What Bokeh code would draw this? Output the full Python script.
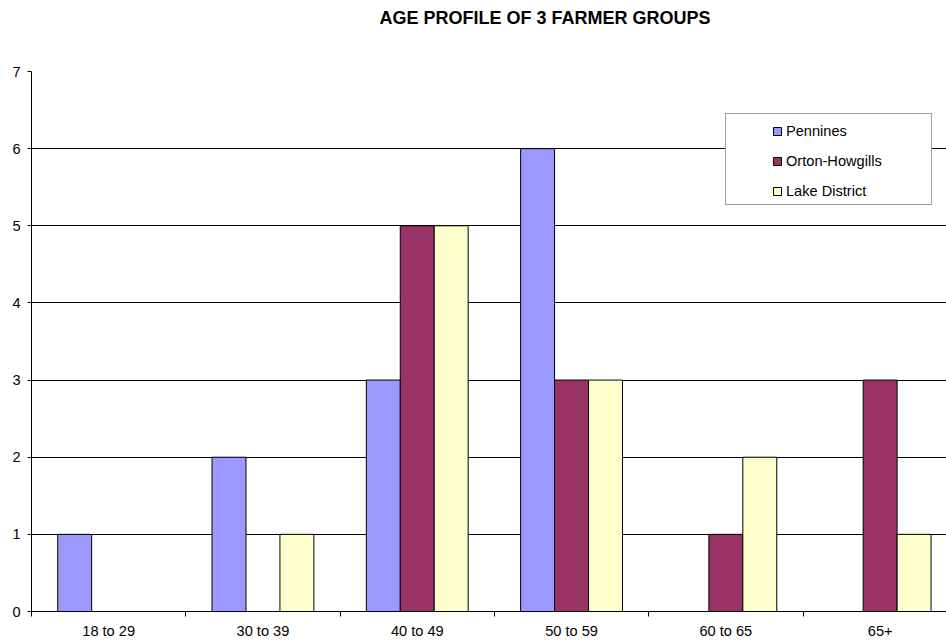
from bokeh.plotting import figure
from bokeh.models import (Range1d, FixedTicker, Legend, LegendItem, ColumnDataSource, Title)
from bokeh.core.properties import value
from bokeh.embed import file_html
from bokeh.resources import INLINE

categories = ["18 to 29", "30 to 39", "40 to 49", "50 to 59", "60 to 65", "65+"]
pennines = [1, 2, 3, 6, 0, 0]
orton_howgills = [0, 0, 5, 3, 1, 3]
lake_district = [0, 1, 5, 3, 2, 1]
series_names = ["Pennines", "Orton-Howgills", "Lake District"]
series_colors = ["#9999FF", "#993366", "#FFFFCC"]
y_ticks = [0, 1, 2, 3, 4, 5, 6, 7]
title_text = "AGE PROFILE OF 3 FARMER GROUPS"

FONT = "Liberation Sans"
W, H = 946, 641
n = len(categories)
centers = [i + 0.5 for i in range(n)]
bar_w = 0.22

p = figure(width=W, height=H, output_backend="svg", toolbar_location=None,
           x_range=Range1d(0, 5.93), y_range=Range1d(0, 7),
           min_border_left=31, min_border_right=0, min_border_top=71, min_border_bottom=0)
p.outline_line_color = None
p.background_fill_color = "white"
p.border_fill_color = "white"

# spacer between title and frame
p.add_layout(Title(text=" ", text_font_size="2px", standoff=35), "above")
p.title.text = title_text
p.title.align = "left"
p.title.offset = 348
p.title.vertical_align = "bottom"
p.title.standoff = 10
p.title.text_font = FONT
p.title.text_font_size = "18px"
p.title.text_font_style = "bold"
p.title.text_color = "black"

renderers = []
for k, (vals, name, color) in enumerate(zip([pennines, orton_howgills, lake_district], series_names, series_colors)):
    src = ColumnDataSource(dict(x=[c + (k - 1) * bar_w for c in centers], top=vals))
    r = p.vbar(x="x", top="top", width=bar_w, bottom=0, source=src,
               fill_color=color, line_color="black", line_width=1)
    renderers.append(r)

# axes
p.xaxis.ticker = FixedTicker(ticks=centers, minor_ticks=list(range(0, n)))
p.xaxis.major_label_overrides = {c: lab for c, lab in zip(centers, categories)}
p.xaxis.major_tick_line_color = None
p.xaxis.major_tick_out = 0
p.xaxis.major_tick_in = 0
p.xaxis.minor_tick_out = 5
p.xaxis.minor_tick_in = 0
p.xaxis.minor_tick_line_color = "black"
p.xaxis.axis_line_color = "black"
p.xaxis.major_label_text_font = FONT
p.xaxis.major_label_text_font_size = "14.6px"
p.xaxis.major_label_text_color = "black"
p.xaxis.major_label_standoff = 6

p.yaxis.ticker = FixedTicker(ticks=y_ticks)
p.yaxis.major_tick_out = 4
p.yaxis.major_tick_in = 0
p.yaxis.minor_tick_line_color = None
p.yaxis.axis_line_color = "black"
p.yaxis.major_tick_line_color = "black"
p.yaxis.major_label_text_font = FONT
p.yaxis.major_label_text_font_size = "14.6px"
p.yaxis.major_label_text_color = "black"
p.yaxis.major_label_standoff = 7

p.xgrid.grid_line_color = None
p.ygrid.grid_line_color = "black"
p.ygrid.grid_line_width = 1

# legend box (frame)
box_src = ColumnDataSource(dict(x=[], y=[]))
box_r = p.scatter(x="x", y="y", source=box_src, fill_alpha=0, line_alpha=0)
box_legend = Legend(items=[LegendItem(label=value(" "), renderers=[box_r])],
                    location=(694, 406), padding=0, spacing=0, margin=0,
                    glyph_width=1, glyph_height=1, label_standoff=0,
                    label_width=204, label_height=90,
                    border_line_color="#404040", border_line_width=1,
                    background_fill_color="white", background_fill_alpha=1,
                    label_text_font_size="1px")
p.add_layout(box_legend)

legend = Legend(items=[LegendItem(label=value(nm), renderers=[r]) for nm, r in zip(series_names, renderers)],
                location=(741, 410), padding=0, spacing=10, margin=0,
                glyph_width=10, glyph_height=10, label_standoff=4,
                label_height=20,
                border_line_alpha=0, background_fill_alpha=0,
                label_text_font=FONT, label_text_font_size="14.6px", label_text_color="black")
p.add_layout(legend)

open("out.html", "w").write(file_html(p, INLINE))
